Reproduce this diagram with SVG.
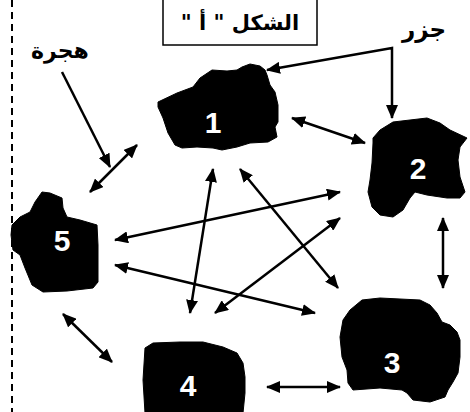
<svg xmlns="http://www.w3.org/2000/svg" width="470" height="412" viewBox="0 0 470 412">
<style>
.isl{fill:#000;stroke:#000;stroke-width:1;stroke-linejoin:round}
.num{font-family:"Liberation Sans",Arial,sans-serif;font-weight:bold;font-size:30px;fill:#fff;text-anchor:middle}
.ar{font-family:"DejaVu Sans",sans-serif;font-weight:bold;fill:#000;text-anchor:middle}
.cn{fill:none;stroke:#000;stroke-width:2.5}
.dbl{marker-start:url(#ah);marker-end:url(#ah)}
</style>
<defs>
<marker id="ah" markerUnits="userSpaceOnUse" markerWidth="14" markerHeight="12" refX="13" refY="6" orient="auto-start-reverse">
<path d="M0,0 L14,6 L0,12 Z" fill="#000"/>
</marker>
</defs>
<rect width="470" height="412" fill="#fff"/>
<line x1="12" y1="0" x2="12" y2="412" stroke="#000" stroke-width="2" stroke-dasharray="7,5"/>
<g id="title">
<rect x="163" y="-2" width="154" height="47" fill="#fff" stroke="#000" stroke-width="1.5"/>
<text class="ar" x="240" y="30" font-size="21" direction="rtl" unicode-bidi="embed">الشكل " أ "</text>
</g>
<g id="label-islands"><text class="ar" x="424" y="37" font-size="23" direction="rtl">جزر</text></g>
<g id="label-migration"><text class="ar" x="60" y="58" font-size="22" direction="rtl">هجرة</text></g>
<g id="island1">
<path class="isl" d="M158,102 L177,93 L193,87 L200,78 L212,70 L227,71 L237,70 L242,67 L250,64 L260,66 L265,70 L267,75 L270,85 L275,92 L278,105 L278,122 L275,127 L277,137 L268,142 L250,143 L237,147 L222,150 L213,148 L197,147 L182,148 L175,145 L168,133 L163,118 L158,107 Z"/>
<text class="num" x="213" y="133">1</text>
</g>
<g id="island2">
<path class="isl" d="M373,138 L380,130 L393,122 L410,120 L427,118 L440,123 L450,130 L467,138 L460,147 L458,160 L460,177 L465,192 L460,198 L447,198 L427,195 L415,192 L410,198 L403,210 L393,217 L380,215 L372,207 L368,192 L370,180 L372,163 L373,143 Z"/>
<text class="num" x="418" y="179">2</text>
</g>
<g id="island3">
<path class="isl" d="M362,300 L380,298 L420,300 L430,305 L437,313 L442,322 L450,325 L457,332 L460,340 L460,357 L458,373 L453,382 L448,390 L445,397 L430,402 L413,400 L407,393 L402,390 L380,388 L353,390 L348,383 L347,370 L342,357 L340,337 L343,320 L350,310 Z"/>
<text class="num" x="392" y="373">3</text>
</g>
<g id="island4">
<path class="isl" d="M145,348 L153,343 L180,342 L203,342 L223,347 L237,353 L243,363 L245,377 L245,393 L243,413 L145,413 L143,380 Z"/>
<text class="num" x="188" y="396">4</text>
</g>
<g id="island5">
<path class="isl" d="M42,192 L50,193 L62,198 L63,208 L67,217 L80,220 L97,225 L98,245 L98,268 L98,282 L93,288 L67,291 L43,292 L32,285 L25,268 L20,255 L13,250 L11,235 L12,225 L20,217 L30,212 L35,202 Z"/>
<text class="num" x="62" y="251">5</text>
</g>
<g id="connectors">
<path class="cn" d="M267,70 L392,48 L392,118" marker-start="url(#ah)" marker-end="url(#ah)"/>
<line class="cn" x1="62" y1="72" x2="110" y2="167" marker-end="url(#ah)"/>
<line class="cn dbl" x1="90" y1="192" x2="137" y2="145"/>
<line class="cn dbl" x1="292" y1="118" x2="365" y2="143"/>
<line class="cn dbl" x1="443" y1="218" x2="443" y2="288"/>
<line class="cn dbl" x1="115" y1="240" x2="340" y2="192"/>
<line class="cn dbl" x1="115" y1="265" x2="315" y2="313"/>
<line class="cn dbl" x1="213" y1="169" x2="190" y2="313"/>
<line class="cn dbl" x1="240" y1="169" x2="338" y2="288"/>
<line class="cn dbl" x1="340" y1="218" x2="215" y2="313"/>
<line class="cn dbl" x1="63" y1="314" x2="112" y2="362"/>
<line class="cn dbl" x1="267" y1="387" x2="340" y2="387"/>
</g>
</svg>
